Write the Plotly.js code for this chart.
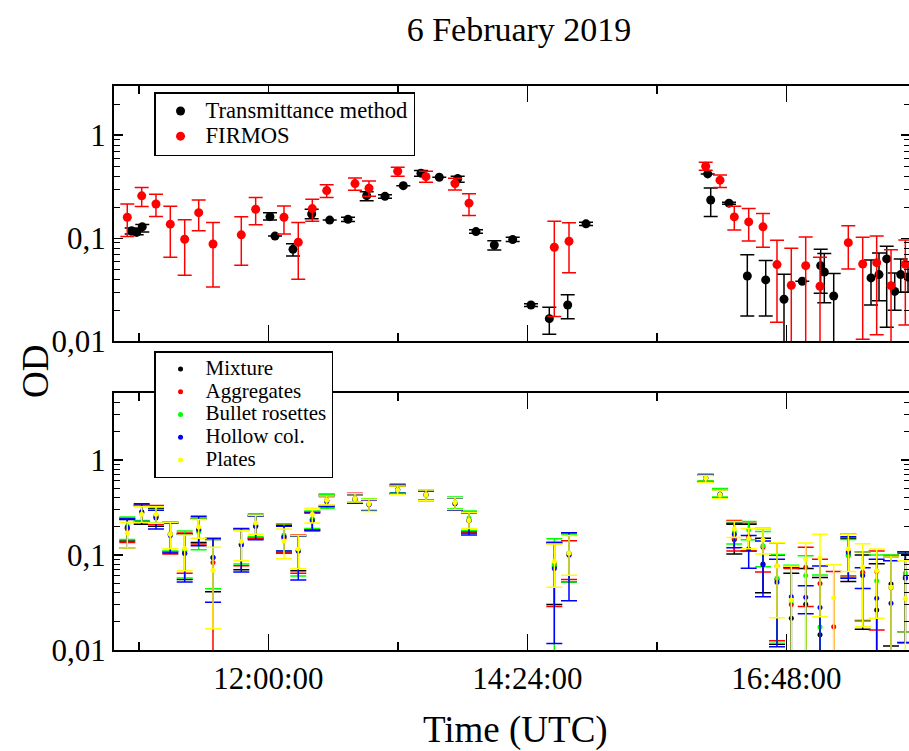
<!DOCTYPE html>
<html><head><meta charset="utf-8">
<script src="https://cdn.plot.ly/plotly-3.0.1.min.js"></script>
<style>html,body{margin:0;padding:0;overflow:hidden;background:#fff}</style>
</head><body><div id="chart" style="width:920px;height:751px"></div>
<script>
// ---------- Top panel: Transmittance method ----------
const tmTime = ["10:44:00","10:46:47","10:49:53","12:00:53","12:03:40","12:13:41","12:24:04","12:34:05","12:44:15","12:54:39","13:04:50","13:15:00","13:24:50","13:35:01","13:45:15","13:55:25","14:05:36","14:15:50","14:26:00","14:36:11","14:46:25","14:56:35","16:04:15","16:05:55","16:16:05","16:26:16","16:36:30","16:46:40","16:56:50","17:07:04","17:09:04","17:14:18","17:35:02","17:39:29","17:43:46","17:48:13","17:51:33","17:55:37"];
const tmOD = [0.118,0.114,0.129,0.162,0.105,0.078,0.172,0.150,0.153,0.259,0.255,0.324,0.428,0.391,0.379,0.116,0.086,0.097,0.0225,0.0166,0.0225,0.138,0.421,0.235,0.219,0.043,0.0394,0.0256,0.0383,0.0542,0.0471,0.0275,0.0412,0.0444,0.063,0.0305,0.0444,0.042];
const tmLo = [0.110,0.108,0.115,0.150,0.105,0.0673,0.155,0.150,0.145,0.231,0.245,0.324,0.40,0.391,0.35,0.112,0.077,0.093,0.0218,0.0117,0.0166,0.133,0.421,0.163,0.214,0.0176,0.0176,0.005,0.0383,0.0293,0.0237,0.005,0.0225,0.0247,0.0137,0.02,0.03,0.03];
const tmHi = [0.126,0.122,0.136,0.177,0.105,0.0886,0.191,0.150,0.160,0.283,0.265,0.324,0.453,0.391,0.40,0.121,0.0948,0.102,0.0232,0.0214,0.0283,0.143,0.421,0.308,0.224,0.069,0.061,0.0447,0.0383,0.0783,0.071,0.0454,0.0616,0.072,0.0836,0.046,0.063,0.055];

// ---------- Top panel: FIRMOS ----------
const fmTime = ["10:41:33","10:49:34","10:57:30","11:05:28","11:13:28","11:21:15","11:29:12","11:44:56","11:52:56","12:08:40","12:16:37","12:24:25","12:32:25","12:48:09","12:55:56","13:11:53","13:27:37","13:43:45","13:51:32","14:38:58","14:47:08","16:03:08","16:11:05","16:19:02","16:27:02","16:34:59","16:42:46","16:50:43","16:58:44","17:06:41","17:22:25","17:30:25","17:38:12","17:46:10","17:54:07"];
const fmOD = [0.160,0.258,0.215,0.137,0.0978,0.177,0.088,0.108,0.191,0.160,0.0914,0.194,0.290,0.339,0.306,0.447,0.396,0.339,0.219,0.0818,0.0935,0.50,0.366,0.161,0.144,0.129,0.0555,0.035,0.0542,0.0342,0.0906,0.0563,0.058,0.0347,0.056];
const fmLo = [0.104,0.203,0.163,0.0654,0.0437,0.118,0.0337,0.0546,0.135,0.110,0.040,0.146,0.248,0.292,0.256,0.40,0.35,0.294,0.166,0.0174,0.0463,0.458,0.31,0.12,0.094,0.0818,0.0153,0.005,0.005,0.005,0.0504,0.0105,0.0116,0.005,0.0144];
const fmHi = [0.215,0.31,0.267,0.204,0.151,0.235,0.142,0.162,0.248,0.206,0.142,0.239,0.33,0.385,0.36,0.489,0.447,0.382,0.27,0.146,0.141,0.546,0.41,0.204,0.194,0.174,0.0956,0.080,0.103,0.0654,0.132,0.102,0.105,0.0775,0.096];

// ---------- Bottom panel: crystal habits ----------
const habTime = ["10:41:33","10:49:34","10:57:30","11:05:28","11:13:28","11:21:15","11:29:12","11:44:56","11:52:56","12:08:40","12:16:37","12:24:25","12:32:25","12:48:09","12:55:56","13:11:53","13:27:37","13:43:45","13:51:32","14:38:58","14:47:08","16:03:08","16:11:05","16:19:02","16:27:02","16:34:59","16:42:46","16:50:43","16:58:44","17:06:41","17:14:18","17:22:25","17:30:25","17:38:12","17:46:10","17:54:07"];

const mixOD = [0.19,0.28,0.25,0.165,0.104,0.18,0.094,0.128,0.20,0.155,0.11,0.235,0.37,0.389,0.34,0.48,0.43,0.35,0.23,0.075,0.104,0.64,0.435,0.145,0.15,0.08,0.055,0.0216,0.0302,0.0145,null,0.10,0.065,0.0263,0.0494,0.0573];
const mixLo = [0.14,0.21,0.20,0.108,0.055,0.135,0.041,0.07,0.15,0.105,0.068,0.185,0.325,0.355,0.29,0.44,0.38,0.30,0.17,0.03,0.052,0.59,0.40,0.102,0.11,0.040,0.0115,0.005,0.005,0.005,null,0.0524,0.0165,0.005,0.011,0.012];
const mixHi = [0.235,0.335,0.31,0.215,0.165,0.24,0.149,0.185,0.26,0.205,0.158,0.285,0.42,0.435,0.385,0.53,0.475,0.40,0.28,0.135,0.165,0.69,0.49,0.21,0.21,0.15,0.10,0.064,0.0718,0.0577,null,0.15,0.10,0.0806,0.095,0.105];

const aggOD = [0.19,0.275,0.255,0.165,0.11,0.185,0.083,0.13,0.205,0.15,0.112,0.23,0.375,0.39,0.34,0.485,0.43,0.35,0.23,0.08,0.10,0.645,0.43,0.15,0.155,0.12,0.0764,0.03,0.0741,0.05,0.0176,0.11,0.0651,0.0672,0.045,0.06];
const aggLo = [0.135,0.225,0.21,0.102,0.064,0.13,0.005,0.077,0.15,0.105,0.064,0.18,0.33,0.35,0.29,0.44,0.38,0.30,0.175,0.0286,0.055,0.59,0.40,0.11,0.11,0.066,0.0125,0.005,0.0286,0.005,0.005,0.06,0.0204,0.0162,0.005,0.0156];
const aggHi = [0.245,0.33,0.33,0.215,0.17,0.245,0.145,0.185,0.26,0.21,0.162,0.28,0.435,0.446,0.38,0.545,0.475,0.40,0.275,0.132,0.141,0.70,0.49,0.23,0.215,0.19,0.134,0.072,0.12,0.09,0.0667,0.165,0.108,0.11,0.099,0.108];

const bulOD = [0.20,0.275,0.26,0.165,0.11,0.176,0.094,0.13,0.21,0.162,0.112,0.24,0.37,0.385,0.345,0.49,0.425,0.355,0.245,0.078,0.104,0.65,0.44,0.175,0.184,0.125,0.0568,0.033,0.0606,0.0174,null,0.098,0.062,0.0534,0.046,0.064];
const bulLo = [0.145,0.23,0.215,0.11,0.057,0.113,0.044,0.08,0.155,0.11,0.06,0.19,0.31,0.36,0.295,0.45,0.37,0.305,0.18,0.005,0.052,0.6,0.405,0.13,0.144,0.075,0.0118,0.005,0.005,0.005,null,0.058,0.02,0.005,0.005,0.0156];
const bulHi = [0.25,0.325,0.315,0.22,0.178,0.245,0.145,0.185,0.27,0.212,0.158,0.29,0.43,0.44,0.39,0.56,0.48,0.405,0.29,0.148,0.165,0.71,0.5,0.22,0.225,0.176,0.101,0.078,0.0977,0.0616,null,0.145,0.108,0.10,0.1,0.108];

const holOD = [0.195,0.285,0.245,0.16,0.104,0.185,0.094,0.128,0.20,0.155,0.11,0.23,0.365,0.38,0.34,0.48,0.43,0.345,0.228,0.072,0.10,0.64,0.435,0.165,0.115,0.0786,0.0516,0.0364,0.0359,0.0279,null,0.106,0.0606,0.035,0.0311,0.0573];
const holLo = [0.118,0.225,0.187,0.105,0.052,0.125,0.0317,0.066,0.144,0.11,0.0545,0.179,0.32,0.35,0.29,0.445,0.375,0.295,0.162,0.0117,0.033,0.585,0.40,0.119,0.0724,0.0364,0.0108,0.005,0.0241,0.005,null,0.0568,0.0442,0.005,0.005,0.0119];
const holHi = [0.24,0.345,0.295,0.22,0.165,0.255,0.149,0.19,0.255,0.20,0.158,0.275,0.41,0.43,0.38,0.54,0.47,0.395,0.28,0.135,0.171,0.69,0.485,0.215,0.16,0.14,0.0898,0.074,0.0475,0.0762,null,0.155,0.0731,0.09,0.087,0.108];

const plaOD = [0.17,0.268,0.268,0.165,0.117,0.196,0.069,0.138,0.216,0.14,0.115,0.268,0.375,0.389,0.344,0.48,0.43,0.355,0.23,0.085,0.104,0.64,0.43,0.187,0.149,0.144,0.0764,0.0336,0.090,0.093,0.0354,0.115,0.0741,0.068,0.0458,0.0347];
const plaLo = [0.118,0.22,0.215,0.116,0.068,0.15,0.0167,0.087,0.165,0.091,0.0713,0.216,0.335,0.36,0.286,0.435,0.375,0.30,0.19,0.0458,0.061,0.58,0.395,0.152,0.116,0.102,0.0218,0.005,0.005,0.0224,0.005,0.0667,0.0176,0.0216,0.005,0.005];
const plaHi = [0.22,0.32,0.32,0.22,0.162,0.235,0.12,0.179,0.26,0.187,0.16,0.31,0.415,0.44,0.384,0.53,0.48,0.40,0.28,0.13,0.16,0.685,0.48,0.225,0.19,0.19,0.134,0.076,0.133,0.165,0.079,0.165,0.131,0.115,0.095,0.087];

// ---------- Axis ticks ----------
const yTickVals = [0.01, 0.1, 1];
const yTickText = ["0,01", "0,1", "1"];
const dayPrefix = "2019-02-06 ";
const xRange = ["10:34:10", "17:56:43"];

const FONT = "Liberation Serif, Times New Roman, serif";
function ts(a) { return a.map(t => dayPrefix + t); }
function err(v, lo, hi, color, w, th) {
  return {type: 'data', symmetric: false, visible: true,
    array: v.map((y, i) => y == null ? null : hi[i] - y),
    arrayminus: v.map((y, i) => y == null ? null : y - lo[i]),
    color: color, thickness: th, width: w};
}
function minorVals(maxDec) {
  const out = [];
  for (let d = -2; d <= maxDec; d++) for (let k = 2; k <= 9; k++) out.push(k * Math.pow(10, d));
  return out;
}

const traces = [];
traces.push({x: ts(tmTime), y: tmOD, type: 'scatter', mode: 'markers', name: '<span style="font-size:22.6px">Transmittance method</span>',
  marker: {color: '#000000', size: 9}, error_y: err(tmOD, tmLo, tmHi, '#000000', 7, 1.5), xaxis: 'x', yaxis: 'y', legend: 'legend'});
traces.push({x: ts(fmTime), y: fmOD, type: 'scatter', mode: 'markers', name: '<span style="font-size:22.6px">FIRMOS</span>',
  marker: {color: '#ff0000', size: 9}, error_y: err(fmOD, fmLo, fmHi, '#ff0000', 7, 1.5), xaxis: 'x', yaxis: 'y', legend: 'legend'});

const habits = [
  ['Mixture', mixOD, mixLo, mixHi, '#000000'],
  ['Aggregates', aggOD, aggLo, aggHi, '#ff0000'],
  ['Bullet rosettes', bulOD, bulLo, bulHi, '#00ff00'],
  ['Hollow col.', holOD, holLo, holHi, '#0000ff'],
  ['Plates', plaOD, plaLo, plaHi, '#ffff00']
];
habits.forEach(h => {
  traces.push({x: ts(habTime), y: h[1], type: 'scatter', mode: 'markers', name: '<span style="font-size:21px">' + h[0] + '</span>',
    marker: {color: h[4], size: 5}, error_y: err(h[1], h[2], h[3], h[4], 8, 1.5), xaxis: 'x2', yaxis: 'y2', legend: 'legend2'});
});

const xCommon = {
  type: 'date', range: ts(xRange), tick0: dayPrefix + '12:00:00', dtick: 8640000,
  ticks: 'inside', ticklen: 16, tickwidth: 1.5, tickcolor: '#000',
  showline: true, linewidth: 2, linecolor: '#000', mirror: 'ticks', showgrid: false, zeroline: false,
  minor: {dtick: 4320000, tick0: dayPrefix + '12:00:00', ticks: 'inside', ticklen: 8, tickwidth: 1.5, tickcolor: '#000', showgrid: false},
  tickformat: '%H:%M:%S', tickfont: {family: FONT, size: 31, color: '#000'}
};
function yCommon(topVal, domain, anchor) {
  return {type: 'log', range: [-2, Math.log10(topVal)], domain: domain, anchor: anchor,
    tickmode: 'array', tickvals: yTickVals, ticktext: yTickText,
    ticks: 'inside', ticklen: 9, tickwidth: 1.5, tickcolor: '#000',
    minor: {tickmode: 'array', tickvals: minorVals(0), ticks: 'inside', ticklen: 6, tickwidth: 1, tickcolor: '#000', showgrid: false},
    showline: true, linewidth: 2, linecolor: '#000', mirror: 'ticks', showgrid: false, zeroline: false,
    tickfont: {family: FONT, size: 31, color: '#000'}};
}

const layout = {
  width: 920, height: 751,
  margin: {l: 114, r: 10, t: 86, b: 101},
  paper_bgcolor: '#fff', plot_bgcolor: '#fff',
  font: {family: FONT, color: '#000'},
  title: {text: '6 February 2019', font: {family: FONT, size: 34, color: '#000'},
    x: 519 / 920, xref: 'container', xanchor: 'center', y: 1 - 29 / 751, yref: 'container', yanchor: 'middle'},
  xaxis: Object.assign({}, xCommon, {anchor: 'y', showticklabels: false}),
  xaxis2: Object.assign({}, xCommon, {anchor: 'y2', matches: 'x'}),
  yaxis: yCommon(3, [0.5473, 1], 'x'),
  yaxis2: yCommon(5, [0, 0.4551], 'x2'),
  showlegend: true,
  legend: {x: 0.0503, y: (650 - 92) / 564, xanchor: 'left', yanchor: 'top', bgcolor: '#fff', bordercolor: '#000', borderwidth: 1.5,
    font: {family: FONT, size: 17, color: '#000'}, itemwidth: 40},
  legend2: {x: 0.0503, y: (650 - 351) / 564, xanchor: 'left', yanchor: 'top', bgcolor: '#fff', bordercolor: '#000', borderwidth: 1.5,
    font: {family: FONT, size: 15.2, color: '#000'}, itemwidth: 40},
  annotations: [
    {text: 'OD', xref: 'paper', yref: 'paper', x: (35 - 114) / 796, y: (650 - 372) / 564, textangle: -90,
      showarrow: false, font: {family: FONT, size: 37, color: '#000'}, xanchor: 'center', yanchor: 'middle'},
    {text: 'Time (UTC)', xref: 'paper', yref: 'paper', x: (515 - 114) / 796, y: (650 - 730) / 564,
      showarrow: false, font: {family: FONT, size: 37, color: '#000'}, xanchor: 'center', yanchor: 'middle'}
  ]
};

Plotly.newPlot('chart', traces, layout, {displayModeBar: false, staticPlot: true});
</script>
</body></html>
